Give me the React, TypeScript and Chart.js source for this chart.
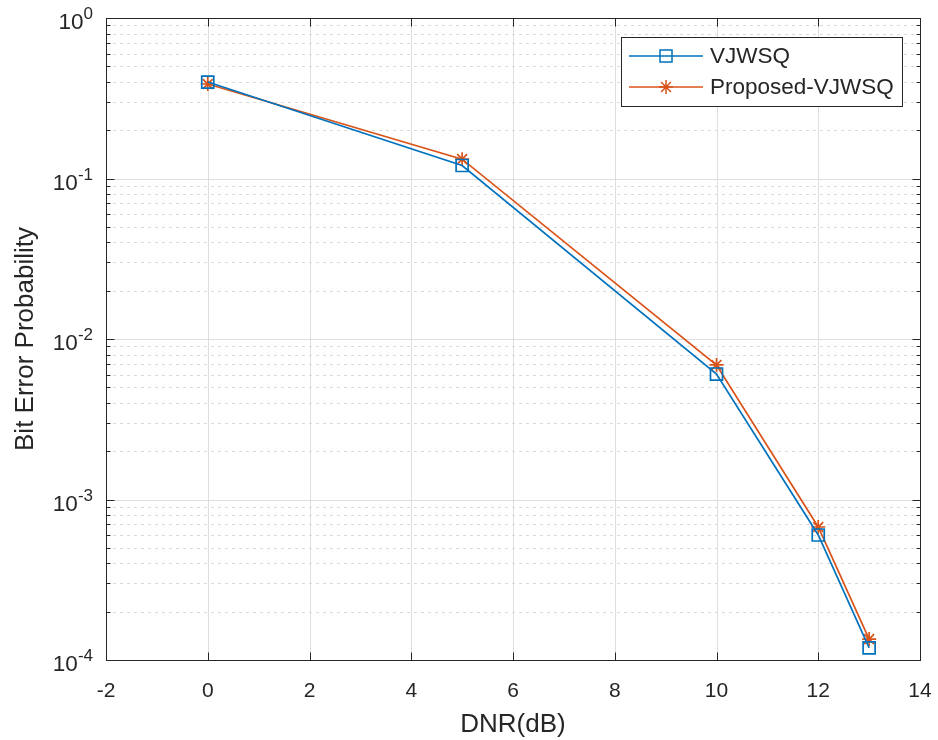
import React, { useEffect, useRef } from 'react';
import { Chart, registerables } from 'chart.js';

Chart.register(...registerables);

// ---- data ----
const dnr = [0, 5, 10, 12, 13];
const berVJWSQ = [0.399, 0.1205, 0.00605, 0.000601, 0.000119];
const berProposed = [0.388, 0.132, 0.00689, 0.000674, 0.000135];
const seriesNames = ['VJWSQ', 'Proposed-VJWSQ'];
const xTicks = [-2, 0, 2, 4, 6, 8, 10, 12, 14];
const yDecades = [-4, -3, -2, -1, 0];
const xTitle = 'DNR(dB)';
const yTitle = 'Bit Error Probability';

const BLUE = '#0072BD';
const ORANGE = '#D95319';
const AXIS = '#262626';
const FONT = '"Liberation Sans", Arial, Helvetica, sans-serif';

const matlabPlugin = {
  id: 'matlabAxes',
  beforeDatasetsDraw(chart: any) {
    const { ctx, chartArea: a, scales } = chart;
    const xs = scales.x, ys = scales.y;
    ctx.save();
    // minor dotted grid
    ctx.strokeStyle = '#d9d9d9';
    ctx.lineWidth = 1;
    ctx.setLineDash([3, 4]);
    for (let k = -4; k < 0; k++) {
      for (let m = 2; m <= 9; m++) {
        const y = Math.round(ys.getPixelForValue(m * Math.pow(10, k))) + 0.5;
        ctx.beginPath();
        ctx.moveTo(a.left, y);
        ctx.lineTo(a.right, y);
        ctx.stroke();
      }
    }
    ctx.setLineDash([]);
    ctx.strokeStyle = '#dedede';
    for (const d of yDecades) {
      const y = Math.round(ys.getPixelForValue(Math.pow(10, d))) + 0.5;
      ctx.beginPath();
      ctx.moveTo(a.left, y);
      ctx.lineTo(a.right, y);
      ctx.stroke();
    }
    for (const t of xTicks) {
      const x = Math.round(xs.getPixelForValue(t)) + 0.5;
      ctx.beginPath();
      ctx.moveTo(x, a.top);
      ctx.lineTo(x, a.bottom);
      ctx.stroke();
    }
    ctx.restore();
  },
  afterDatasetsDraw(chart: any) {
    const { ctx, chartArea: a, scales } = chart;
    const xs = scales.x, ys = scales.y;
    ctx.save();
    ctx.strokeStyle = AXIS;
    ctx.lineWidth = 1;
    const L = Math.round(a.left) + 0.5, R = Math.round(a.right) + 0.5;
    const T = Math.round(a.top) + 0.5, B = Math.round(a.bottom) + 0.5;
    ctx.strokeRect(L, T, R - L, B - T);
    // x ticks
    for (const t of xTicks) {
      const x = Math.round(xs.getPixelForValue(t)) + 0.5;
      ctx.beginPath();
      ctx.moveTo(x, B); ctx.lineTo(x, B - 8);
      ctx.moveTo(x, T); ctx.lineTo(x, T + 8);
      ctx.stroke();
    }
    // y ticks
    for (const d of yDecades) {
      const y = Math.round(ys.getPixelForValue(Math.pow(10, d))) + 0.5;
      ctx.beginPath();
      ctx.moveTo(L, y); ctx.lineTo(L + 8, y);
      ctx.moveTo(R, y); ctx.lineTo(R - 8, y);
      ctx.stroke();
    }
    for (let k = -4; k < 0; k++) {
      for (let m = 2; m <= 9; m++) {
        const y = Math.round(ys.getPixelForValue(m * Math.pow(10, k))) + 0.5;
        ctx.beginPath();
        ctx.moveTo(L, y); ctx.lineTo(L + 4, y);
        ctx.moveTo(R, y); ctx.lineTo(R - 4, y);
        ctx.stroke();
      }
    }
    // x tick labels
    ctx.fillStyle = AXIS;
    ctx.font = `21px ${FONT}`;
    ctx.textAlign = 'center';
    ctx.textBaseline = 'alphabetic';
    for (const t of xTicks) {
      ctx.fillText(String(t), xs.getPixelForValue(t), a.bottom + 37);
    }
    // y tick labels 10^k
    for (const d of yDecades) {
      const y = ys.getPixelForValue(Math.pow(10, d));
      const sup = String(d);
      ctx.font = `17px ${FONT}`;
      const sw = ctx.measureText(sup).width;
      ctx.textAlign = 'left';
      const right = a.left - 13;
      ctx.fillText(sup, right - sw, y + 1);
      ctx.font = `22.5px ${FONT}`;
      ctx.textAlign = 'right';
      ctx.fillText('10', right - sw, y + 11);
    }
    // axis titles
    ctx.font = `26px ${FONT}`;
    ctx.textAlign = 'center';
    ctx.fillText(xTitle, (a.left + a.right) / 2, a.bottom + 72);
    ctx.save();
    ctx.translate(33, (a.top + a.bottom) / 2);
    ctx.rotate(-Math.PI / 2);
    ctx.fillText(yTitle, 0, 0);
    ctx.restore();

    // legend
    const bx = 621, by = 37, bw = 281, bh = 69;
    ctx.fillStyle = '#ffffff';
    ctx.fillRect(bx, by, bw, bh);
    ctx.strokeStyle = AXIS;
    ctx.strokeRect(bx + 0.5, by + 0.5, bw, bh);
    const rows = [
      { name: seriesNames[0], color: BLUE, y: 56, marker: 'rect' },
      { name: seriesNames[1], color: ORANGE, y: 87, marker: 'star' },
    ];
    for (const r of rows) {
      ctx.strokeStyle = r.color;
      ctx.lineWidth = 1.5;
      ctx.beginPath();
      ctx.moveTo(629, r.y); ctx.lineTo(703, r.y);
      ctx.stroke();
      const cx = 666;
      if (r.marker === 'rect') {
        ctx.strokeRect(cx - 6, r.y - 6, 12, 12);
      } else {
        const s = 7, q = s * 0.7071;
        ctx.beginPath();
        ctx.moveTo(cx - s, r.y); ctx.lineTo(cx + s, r.y);
        ctx.moveTo(cx, r.y - s); ctx.lineTo(cx, r.y + s);
        ctx.moveTo(cx - q, r.y - q); ctx.lineTo(cx + q, r.y + q);
        ctx.moveTo(cx - q, r.y + q); ctx.lineTo(cx + q, r.y - q);
        ctx.stroke();
      }
      ctx.fillStyle = AXIS;
      ctx.font = `22.5px ${FONT}`;
      ctx.textAlign = 'left';
      ctx.textBaseline = 'middle';
      ctx.fillText(r.name, 710, r.y + 1);
    }
    ctx.restore();
  },
};

export default function App() {
  const ref = useRef<HTMLCanvasElement | null>(null);
  useEffect(() => {
    if (!ref.current) return;
    const chart = new Chart(ref.current, {
      type: 'line',
      data: {
        datasets: [
          {
            label: seriesNames[0],
            data: dnr.map((x, i) => ({ x, y: berVJWSQ[i] })),
            borderColor: BLUE,
            backgroundColor: 'rgba(0,0,0,0)',
            borderWidth: 1.7,
            pointStyle: 'rect',
            pointRadius: 8.5,
            pointBorderWidth: 1.7,
            pointBorderColor: BLUE,
            pointBackgroundColor: 'rgba(0,0,0,0)',
            tension: 0,
            fill: false,
          },
          {
            label: seriesNames[1],
            data: dnr.map((x, i) => ({ x, y: berProposed[i] })),
            borderColor: ORANGE,
            backgroundColor: 'rgba(0,0,0,0)',
            borderWidth: 1.7,
            pointStyle: 'star',
            pointRadius: 7,
            pointBorderWidth: 1.7,
            pointBorderColor: ORANGE,
            pointBackgroundColor: 'rgba(0,0,0,0)',
            tension: 0,
            fill: false,
          },
        ],
      },
      options: {
        responsive: false,
        animation: false,
        devicePixelRatio: 1,
        layout: { padding: { left: 106, top: 18, right: 18, bottom: 80 } },
        plugins: { legend: { display: false }, tooltip: { enabled: false } },
        scales: {
          x: { type: 'linear', min: -2, max: 14, display: false },
          y: { type: 'logarithmic', min: 1e-4, max: 1, display: false },
        },
      },
      plugins: [matlabPlugin],
    } as any);
    return () => chart.destroy();
  }, []);
  return (
    <div style={{ position: 'fixed', left: 0, top: 0, width: 938, height: 740, background: '#fff' }}>
      <canvas ref={ref} width={938} height={740} />
    </div>
  );
}
